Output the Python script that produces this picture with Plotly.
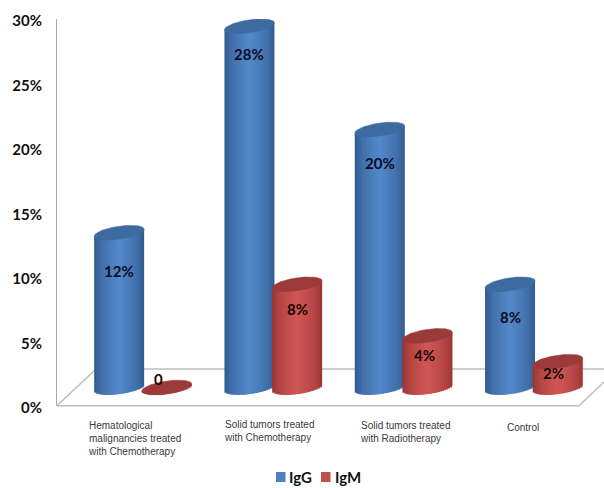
import numpy as np
import plotly.graph_objects as go

categories = ["Hematological<br>malignancies treated<br>with Chemotherapy",
              "Solid tumors treated<br>with Chemotherapy",
              "Solid tumors treated<br>with Radiotherapy",
              "Control"]
igg = [12, 28, 20, 8]
igm = [0, 8, 4, 2]
igg_text = ["12%", "28%", "20%", "8%"]
igm_text = ["0", "8%", "4%", "2%"]
y_ticks = [0, 5, 10, 15, 20, 25, 30]

W, H = 604, 488
L, R, T, B = 57, 0, 19, 82
PW, PH = W - L - R, H - T - B
PX_X = 130.3                      # px per category
PX_Y = PH / 30.0                  # px per percent
X0 = -(143 - L) / PX_X
X1 = X0 + PW / PX_X
FLOOR = 18.5 / PX_Y               # cylinder base centre above axis zero
HALF = 25 / PX_X
OFFSET = 23.85 / PX_X
EB = 6.5 / PX_Y                   # ellipse half height
EK = 3.5 / PX_Y                   # ellipse tilt
FONT = "Lato"
N = 25
OVERLAP = 1.5 / PX_X


def mix(a, b, f):
    return "rgb(%d,%d,%d)" % tuple(round(a[i] + (b[i] - a[i]) * f) for i in range(3))


def cylinders(values, name, off, edge, mid, cap):
    xs = [i + off for i in range(len(values))]
    vals = np.array(values, float)
    step = HALF * 2 / N
    for k in range(N):
        t0 = -1 + 2 * k / N
        t = t0 + 1 / N
        f = (1 - abs(t)) ** 0.55
        curve = np.sqrt(max(1 - t * t, 0))
        bottom = FLOOR - EB * curve + EK * t
        w = step + (OVERLAP if k < N - 1 else 0)
        fig.add_trace(go.Bar(
            x=xs, y=vals + EB * curve, base=[bottom] * len(xs),
            width=w, marker=dict(color=mix(edge, mid, f), line_width=0),
            offset=t0 * HALF,
            showlegend=False, hoverinfo="skip", name=name))
    th = np.linspace(0, 2 * np.pi, 73)
    for x, v in zip(xs, vals):
        fig.add_trace(go.Scatter(
            x=x + HALF * np.cos(th),
            y=FLOOR + v + EB * np.sin(th) + EK * np.cos(th),
            mode="lines", fill="toself", fillcolor=cap, line=dict(width=0.5, color=cap),
            showlegend=False, hoverinfo="skip", name=name, cliponaxis=False))


fig = go.Figure()
cylinders(igg, "IgG", -OFFSET, (44, 84, 134), (84, 136, 202), "#3d6b9f")
cylinders(igm, "IgM", OFFSET, (146, 48, 46), (208, 86, 84), "#9b3a38")


def px(x):
    return (x - L) / PW


def py(y):
    return (H - B - y) / PH


frame = [((57, 405.7), (579, 405.7)), ((57, 405.7), (96, 369)),
         ((579, 405.7), (604, 382)), ((96, 369), (604, 369))]
shapes = [dict(type="line", layer="below", xref="paper", yref="paper",
               x0=px(a[0]), y0=py(a[1]), x1=px(b[0]), y1=py(b[1]),
               line=dict(color="#bdbdbd", width=1.5)) for a, b in frame]

annotations = []
igg_drop = [38, 28, 33, 33]
igm_drop = [-9, 25, 19, 11]
igm_nudge = [-8, 0, -3, -4]
for i in range(4):
    annotations.append(dict(x=i - OFFSET, y=FLOOR + igg[i], yshift=-igg_drop[i], text=igg_text[i],
                            showarrow=False, font=dict(family=FONT, size=15, color="#0b0b25", weight="bold")))
    annotations.append(dict(x=i + OFFSET, y=FLOOR + igm[i], yshift=-igm_drop[i], xshift=igm_nudge[i], text=igm_text[i],
                            showarrow=False, font=dict(family=FONT, size=15, color="#1a0505", weight="bold")))

label_left = [86.5, 222.5, 359, 505.5]
label_top = [418, 417, 418, 420]
for c, lx, ly in zip(categories, label_left, label_top):
    annotations.append(dict(xref="paper", yref="paper", x=px(lx), y=py(ly), xanchor="left", yanchor="top",
                            align="left", text=c, showarrow=False, xshift=-1,
                            font=dict(family="Liberation Sans", size=10, color="#3a3a3a")))

for name, color, sx, tx in [("IgG", "#4f81bd", 276, 287), ("IgM", "#c0504d", 321, 332.5)]:
    shapes.append(dict(type="rect", xref="paper", yref="paper", x0=px(sx), x1=px(sx + 9.5),
                       y0=py(482), y1=py(472), fillcolor=color, line_width=0))
    annotations.append(dict(xref="paper", yref="paper", x=px(tx), y=py(477), xanchor="left", yanchor="middle",
                            text=name, showarrow=False,
                            font=dict(family=FONT, size=15, color="#111111", weight="bold")))

fig.update_layout(
    width=W, height=H, margin=dict(l=L, r=R, t=T, b=B, pad=0), autosize=False,
    barmode="overlay", plot_bgcolor="white", paper_bgcolor="white", showlegend=False,
    shapes=shapes, annotations=annotations,
    xaxis=dict(visible=False, range=[X0, X1], type="linear"),
    yaxis=dict(range=[0, 30], tickvals=y_ticks, ticktext=[f"{v}%" for v in y_ticks],
               showgrid=False, zeroline=False, showline=True, linecolor="#a8a8a8", linewidth=1,
               ticks="", ticklabelstandoff=11, ticklabelshift=2,
               tickfont=dict(family=FONT, size=15, color="#111111", weight="bold")),
)
fig.write_html("out.html", config={"displayModeBar": False},
               post_script="document.body.style.margin='0';document.body.style.overflow='hidden';")
